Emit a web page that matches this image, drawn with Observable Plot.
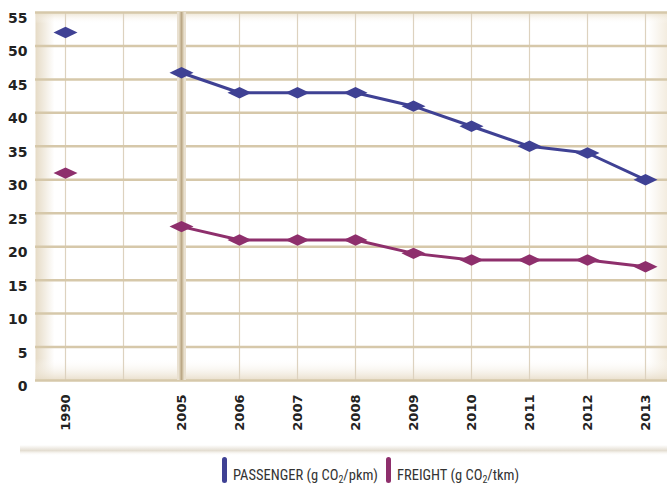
<!DOCTYPE html>
<html>
<head>
<meta charset="utf-8">
<script src="https://cdn.jsdelivr.net/npm/d3@7"></script>
<script src="https://cdn.jsdelivr.net/npm/@observablehq/plot@0.6"></script>
<style>
  html, body { margin: 0; padding: 0; background: #ffffff; }
  #wrap { position: relative; width: 667px; height: 489px; overflow: hidden; background: #ffffff; }
  #chart svg { display: block; }
  #shadow { position: absolute; left: 20px; top: 445px; width: 660px; height: 10px;
    background: linear-gradient(to bottom, rgba(255,255,255,0) 0%, rgba(225,218,205,0.9) 55%, rgba(245,242,236,0.6) 80%, rgba(255,255,255,0) 100%); }
  #legend { position: absolute; left: 0; top: 445px; width: 667px; height: 44px;
    font-family: "Liberation Sans Narrow", "Roboto Condensed", "Liberation Sans", Arial, sans-serif; font-size: 14.5px; color: #333; }
  .item { position: absolute; top: 12px; display: flex; align-items: flex-end; height: 26px; }
  .sw { width: 5px; height: 26px; border-radius: 3px; margin-right: 6px; }
  .lab { line-height: 14px; padding-bottom: 0px; white-space: nowrap; }
  .lab sub { font-size: 10px; vertical-align: -3px; line-height: 0; }
</style>
</head>
<body>
<div id="wrap">
  <div id="chart"></div>
  <div id="shadow"></div>
  <div id="legend"></div>
</div>
<script>
// ---- data ----
const years = ["1990", "gap", "2005", "2006", "2007", "2008", "2009", "2010", "2011", "2012", "2013"];
const dataYears = ["1990", "2005", "2006", "2007", "2008", "2009", "2010", "2011", "2012", "2013"];
const passenger = [52, 46, 43, 43, 43, 41, 38, 35, 34, 30];
const freight = [31, 23, 21, 21, 21, 19, 18, 18, 18, 17];
const yTicks = [0, 5, 10, 15, 20, 25, 30, 35, 40, 45, 50, 55];
const seriesNames = ["PASSENGER", "FREIGHT"];
const seriesUnits = ["pkm", "tkm"];
const colors = ["#3f4194", "#8e2f6c"];

const rows = [];
dataYears.forEach((yr, i) => {
  rows.push({year: yr, value: passenger[i], series: "PASSENGER"});
  rows.push({year: yr, value: freight[i], series: "FREIGHT"});
});
const lineRows = rows.filter(d => d.year !== "1990");

// flattened diamond symbol
const flatDiamond = {
  draw(ctx, size) {
    const r = Math.sqrt(size / Math.PI);
    const a = r * 2.0, b = r * 0.95;
    ctx.moveTo(-a, 0); ctx.lineTo(0, -b); ctx.lineTo(a, 0); ctx.lineTo(0, b); ctx.closePath();
  }
};

const font = "'DejaVu Sans', Verdana, sans-serif";

const plot = Plot.plot({
  width: 667,
  height: 445,
  marginTop: 12,
  marginBottom: 65,
  marginLeft: 35,
  marginRight: 0,
  style: {background: "transparent", fontFamily: font, fontSize: "13px"},
  x: {type: "point", domain: years, range: [64, 645], padding: 0},
  y: {domain: [0, 55], range: [380, 12]},
  color: {domain: seriesNames, range: colors},
  marks: [
    Plot.frame({fill: "url(#bgL)", stroke: "none"}),
    Plot.frame({fill: "url(#bgB)", stroke: "none"}),
    Plot.gridX(years, {stroke: "#ddd2bf", strokeOpacity: 1, strokeWidth: 1.2}),
    Plot.gridY(yTicks, {stroke: "#d6c8aa", strokeOpacity: 1, strokeWidth: 2.5}),
    Plot.ruleX(["2005"], {stroke: "#e9e0d0", strokeWidth: 9}),
    Plot.ruleX(["2005"], {stroke: "#d2c3a6", strokeWidth: 4}),
    Plot.ruleX(["2005"], {stroke: "#bba887", strokeWidth: 1.5}),
    Plot.axisY(yTicks, {tickSize: 0, tickPadding: 8, dy: 6, fontSize: 14, fontWeight: "bold", fill: "#222", label: null}),
    Plot.axisX(years.filter(d => d !== "gap"), {tickSize: 0, tickPadding: 14, tickRotate: -90, fontSize: 13, fontWeight: "bold", fill: "#222", label: null}),
    Plot.line(lineRows, {x: "year", y: "value", z: "series", stroke: "series", strokeWidth: 3}),
    Plot.dot(rows, {x: "year", y: "value", fill: "series", symbol: flatDiamond, r: 6, stroke: "none"})
  ]
});

// gradient definitions for the plot-area shading
const svg = d3.select(plot);
const defs = svg.insert("defs", ":first-child");
const gL = defs.append("linearGradient").attr("id", "bgL").attr("x1", 0).attr("x2", 1).attr("y1", 0).attr("y2", 0);
gL.append("stop").attr("offset", 0).attr("stop-color", "#e6dbc6");
gL.append("stop").attr("offset", 0.03).attr("stop-color", "#ffffff");
gL.append("stop").attr("offset", 0.97).attr("stop-color", "#ffffff");
gL.append("stop").attr("offset", 1).attr("stop-color", "#f3ecdf");
const gB = defs.append("linearGradient").attr("id", "bgB").attr("x1", 0).attr("x2", 0).attr("y1", 0).attr("y2", 1);
gB.append("stop").attr("offset", 0).attr("stop-color", "#e8dcc4").attr("stop-opacity", 0.8);
gB.append("stop").attr("offset", 0.03).attr("stop-color", "#ffffff").attr("stop-opacity", 0);
gB.append("stop").attr("offset", 0.94).attr("stop-color", "#ffffff").attr("stop-opacity", 0);
gB.append("stop").attr("offset", 1).attr("stop-color", "#e6dac4").attr("stop-opacity", 0.9);

// enforce tick label fonts
svg.selectAll("g[aria-label='y-axis tick label']").attr("font-size", 14).attr("font-weight", "bold").attr("font-family", font);
svg.selectAll("g[aria-label='x-axis tick label']").attr("font-size", 13).attr("font-weight", "bold").attr("font-family", font);

document.getElementById("chart").appendChild(plot);

// legend
const legend = document.getElementById("legend");
const lefts = [222, 386];
seriesNames.forEach((name, i) => {
  const item = document.createElement("div");
  item.className = "item";
  item.style.left = lefts[i] + "px";
  item.innerHTML = `<div class="sw" style="background:${colors[i]}"></div><div class="lab">${name} (g CO<sub>2</sub>/${seriesUnits[i]})</div>`;
  legend.appendChild(item);
});
</script>
</body>
</html>
